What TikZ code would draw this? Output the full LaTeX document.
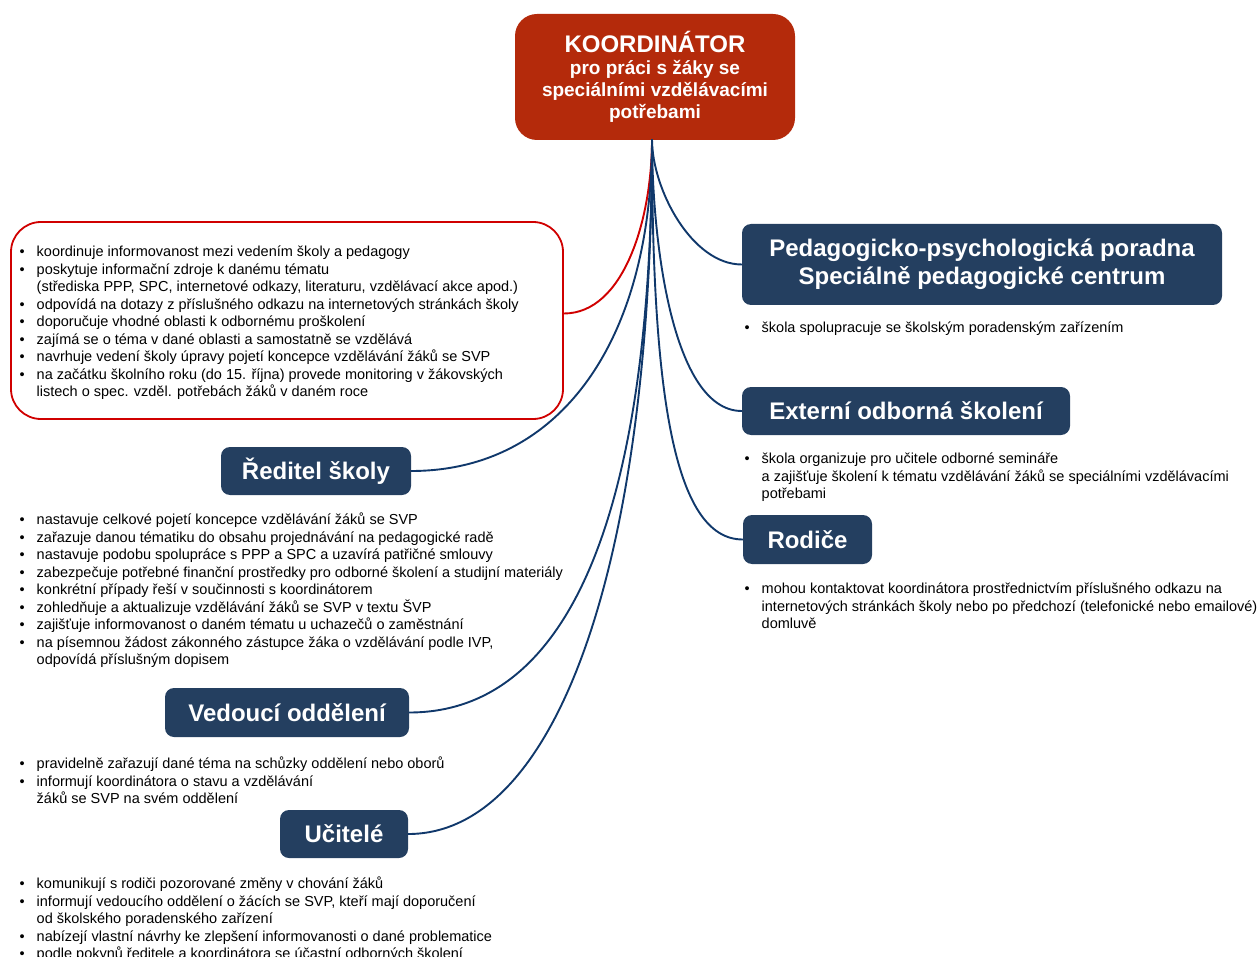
\documentclass[tikz,border=0pt]{standalone}
\usepackage{fontspec}
\setmainfont{Liberation Sans}
\usetikzlibrary{positioning}
\definecolor{koordred}{HTML}{B42A0B}
\definecolor{boxnavy}{HTML}{243F60}
\definecolor{linenavy}{HTML}{10386B}
\definecolor{linered}{HTML}{D00000}
\newcommand{\bod}{\makebox[17pt][l]{\textbullet}}
\newcommand{\dal}{\hspace*{17pt}}

\begin{document}
\begin{tikzpicture}[x=1pt,y=-1pt,
        koordinator/.style={rectangle,rounded corners=22pt,fill=koordred,text=white,font=\fontsize{19}{22}\selectfont\bfseries,align=center,minimum width=280pt,minimum height=126pt,inner sep=0pt},
        role/.style={rectangle,rounded corners=9pt,fill=boxnavy,text=white,font=\fontsize{24}{28}\selectfont\bfseries,align=center,minimum height=48pt,inner sep=0pt},
        duties/.style={anchor=north west,align=left,inner sep=0pt,font=\fontsize{14.5}{17.5}\selectfont},
        dutybox/.style={rectangle,rounded corners=30pt,draw=linered,line width=1.8pt,minimum width=552pt,minimum height=197pt},
        link/.style={draw=linenavy,line width=1.9pt},
        redlink/.style={draw=linered,line width=1.9pt}]
\useasboundingbox (0,0) rectangle (1258,957);

% Koordinator %
\node[koordinator] (koord) at (655,77) {{\fontsize{24}{27}\selectfont KOORDINÁTOR}\\pro práci s žáky se\\speciálními vzdělávacími\\potřebami};
\coordinate (hub) at ([xshift=-3pt,yshift=1pt]koord.south);

% Koordinator duties %
\node[dutybox] (rbox) at (287,320.5) {};
\node[duties] (rtext) at (19.5,246) {\bod koordinuje informovanost mezi vedením školy a pedagogy\\
\bod poskytuje informační zdroje k danému tématu\\
\dal (střediska PPP, SPC, internetové odkazy, literaturu, vzdělávací akce apod.)\\
\bod odpovídá na dotazy z příslušného odkazu na internetových stránkách školy\\
\bod doporučuje vhodné oblasti k odbornému proškolení\\
\bod zajímá se o téma v dané oblasti a samostatně se vzdělává\\
\bod navrhuje vedení školy úpravy pojetí koncepce vzdělávání žáků se SVP\\
\bod na začátku školního roku (do 15. října) provede monitoring v žákovských\\
\dal listech o spec. vzděl. potřebách žáků v daném roce};

% Roles left %
\node[role,minimum width=190pt] (reditel) at (316,471) {Ředitel školy};
\node[role,minimum width=244pt,minimum height=49pt] (vedouci) at (287,712.5) {Vedoucí oddělení};
\node[role,minimum width=128pt] (ucitele) at (344,834) {Učitelé};

% Roles right %
\node[role,minimum width=480pt,minimum height=81pt] (ppp) at (982,264.5) {Pedagogicko-psychologická poradna\\Speciálně pedagogické centrum};
\node[role,minimum width=328pt] (externi) at (906,411) {Externí odborná školení};
\node[role,minimum width=129pt,minimum height=49pt] (rodice) at (807.5,539.5) {Rodiče};

% Duties %
\node[duties] (dtext) at (19.5,513) {\bod nastavuje celkové pojetí koncepce vzdělávání žáků se SVP\\
\bod zařazuje danou tématiku do obsahu projednávání na pedagogické radě\\
\bod nastavuje podobu spolupráce s PPP a SPC a uzavírá patřičné smlouvy\\
\bod zabezpečuje potřebné finanční prostředky pro odborné školení a studijní materiály\\
\bod konkrétní případy řeší v součinnosti s koordinátorem\\
\bod zohledňuje a aktualizuje vzdělávání žáků se SVP v textu ŠVP\\
\bod zajišťuje informovanost o daném tématu u uchazečů o zaměstnání\\
\bod na písemnou žádost zákonného zástupce žáka o vzdělávání podle IVP,\\
\dal odpovídá příslušným dopisem};
\node[duties] (vtext) at (19.5,757) {\bod pravidelně zařazují dané téma na schůzky oddělení nebo oborů\\
\bod informují koordinátora o stavu a vzdělávání\\
\dal žáků se SVP na svém oddělení};
\node[duties] (utext) at (19.5,877) {\bod komunikují s rodiči pozorované změny v chování žáků\\
\bod informují vedoucího oddělení o žácích se SVP, kteří mají doporučení\\
\dal od školského poradenského zařízení\\
\bod nabízejí vlastní návrhy ke zlepšení informovanosti o dané problematice\\
\bod podle pokynů ředitele a koordinátora se účastní odborných školení};
\node[duties] (ptext) at (744.5,322) {\bod škola spolupracuje se školským poradenským zařízením};
\node[duties] (etext) at (744.5,453) {\bod škola organizuje pro učitele odborné semináře\\
\dal a zajišťuje školení k tématu vzdělávání žáků se speciálními vzdělávacími\\
\dal potřebami};
\node[duties] (otext) at (744.5,583) {\bod mohou kontaktovat koordinátora prostřednictvím příslušného odkazu na\\
\dal internetových stránkách školy nebo po předchozí (telefonické nebo emailové)\\
\dal domluvě};

% Links %
\draw[redlink] (hub) .. controls +(0,80) and +(60,0) .. ([yshift=7pt]rbox.east);
\foreach \n/\a/\b in {ppp.west/50/-50,externi.west/100/-70,rodice.west/250/-70,reditel.east/200/150,vedouci.east/350/170,ucitele.east/420/150}
	\draw[link] (hub) .. controls +(0,\a) and +(\b,0) .. (\n);
\end{tikzpicture}
\end{document}
